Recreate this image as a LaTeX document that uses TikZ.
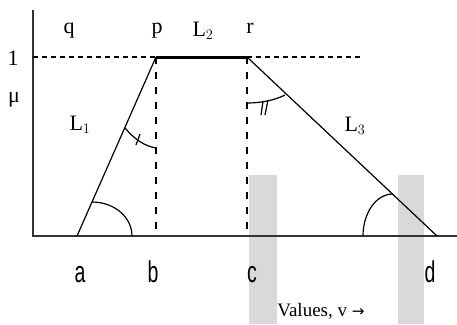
\documentclass[tikz,border=0pt]{standalone}
\usepackage{fontspec}
\setmainfont{Liberation Serif}
\newfontfamily\sansf{Liberation Sans}
\usepackage{graphicx}
\begin{document}
\begin{tikzpicture}[x=1pt,y=-1pt,
  lbl/.style={inner sep=0pt,font=\fontsize{22}{24}\selectfont},
  slbl/.style={inner sep=0pt,font=\sansf\fontsize{30}{32}\selectfont},
  axisline/.style={line width=1.4pt,black!80},
  hdsh/.style={line width=1.5pt,dash pattern=on 5pt off 4pt},
  vdsh/.style={line width=1.2pt,dash pattern=on 7pt off 8pt},
  trapline/.style={line width=1.2pt},
  anglemark/.style={line width=1.2pt}]
\useasboundingbox (0,0) rectangle (457,324);
% gray bands
\fill[black!15] (249,175) rectangle (277,324);
\fill[black!15] (398,175) rectangle (424,324);
% key points
\coordinate (O) at (33,236);
\coordinate (top) at (33,10);
\coordinate (xend) at (457,236);
\coordinate (a) at (77,236);
\coordinate (b) at (156,236);
\coordinate (c) at (247,236);
\coordinate (d) at (437,236);
\coordinate (p) at (156,57);
\coordinate (r) at (247,57);
\coordinate (q0) at (33,57);
\coordinate (dend) at (362,57);
% axes
\draw[axisline] (top) -- (O) -- (xend);
% dashed
\draw[hdsh] (q0) -- (p);
\draw[hdsh] (r) -- (dend);
\draw[vdsh] (p) -- (b);
\draw[vdsh] (r) -- (c);
% trapezoid
\draw[trapline] (a) -- (p);
\draw[line width=3pt] (p) -- (r);
\draw[trapline] (r) -- (d);
% angle marks
\draw[anglemark] (92,202) .. controls (114,202) and (132,217) .. (132,236);
\draw[anglemark] (363,236) .. controls (363,213) and (376,194) .. (393,194);
\draw[anglemark] (125,128) .. controls (135,140) and (145,146) .. (156,148);
\draw[anglemark] (136,145) -- (140,134);
\draw[anglemark] (247,103) .. controls (262,103) and (275,100) .. (285,95);
\draw[anglemark] (261,115) -- (263,101);
\draw[anglemark] (265,115) -- (268,100);
% labels
\node[lbl,anchor=base] (lq) at (69,33) {q};
\node[lbl,anchor=base] (lp) at (157,33) {p};
\node[lbl,anchor=base] (lL2) at (203,36) {L$_2$};
\node[lbl,anchor=base] (lr) at (250,33) {r};
\node[lbl,anchor=base] (l1) at (13,65) {1};
\node[lbl,anchor=base] (lmu) at (14,102) {μ};
\node[lbl,anchor=base] (lL1) at (80,130) {L$_1$};
\node[lbl,anchor=base] (lL3) at (355,131) {L$_3$};
\node[slbl,anchor=base] (la) at (80,282) {\scalebox{0.65}[1]{a}};
\node[slbl,anchor=base] (lb) at (153,282) {\scalebox{0.65}[1]{b}};
\node[slbl,anchor=base] (lc) at (252,282) {\scalebox{0.65}[1]{c}};
\node[slbl,anchor=base] (ld) at (430,282) {\scalebox{0.65}[1]{d}};
\node[lbl,anchor=base,font=\fontsize{19}{22}\selectfont] (lv) at (321,316) {Values, v \fontspec{DejaVu Sans}\scalebox{0.8}{→}};
\end{tikzpicture}
\end{document}
